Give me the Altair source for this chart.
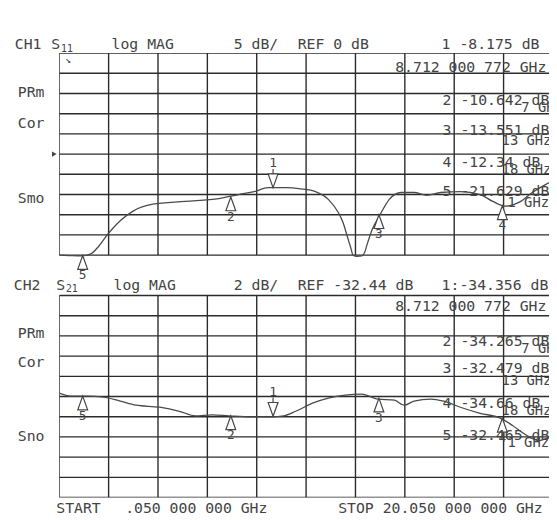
import altair as alt
import pandas as pd

freq_grid = [0.05, 2.05, 4.05, 6.05, 8.05, 10.05, 12.05, 14.05, 16.05, 18.05, 20.05]
div_rows = [0, 1, 2, 3, 4, 5, 6, 7, 8, 9, 10]

# channel settings: (panel offset in divisions, reference dB, dB per division)
ch1_set = (0, 0.0, 5.0)
ch2_set = (12, -32.44, 2.0)

# CH1  S11 trace
s11_ghz = [0.05, 0.45, 0.95, 1.33, 1.65, 1.97, 2.52, 3.04, 3.84, 5.16, 6.52, 7.32, 7.95,
           8.51, 9.23, 9.83, 10.43, 10.95, 11.35, 11.55, 11.71, 11.85, 11.95, 12.11, 12.31,
           12.43, 12.51, 12.74, 13.02, 13.42, 13.90, 14.42, 14.94, 15.50, 16.30, 17.10,
           17.61, 18.13, 18.69, 19.21, 19.73, 20.05]
s11_db = [-25.0, -25.1, -25.2, -24.7, -22.8, -20.2, -16.5, -14.1, -12.4, -11.7, -11.0, -10.0, -9.3,
          -8.3, -8.3, -8.6, -9.3, -11.2, -14.4, -17.0, -20.2, -23.0, -25.0, -25.3, -25.2,
          -24.2, -22.6, -18.5, -15.3, -11.2, -9.5, -9.5, -10.2, -9.5, -9.3, -10.0,
          -11.7, -12.9, -11.9, -9.5, -7.6, -6.6]

# CH2  S21 trace
s21_ghz = [0.05, 0.53, 1.17, 1.85, 2.52, 3.16, 4.12, 4.92, 5.56, 6.24, 6.92, 7.83, 8.63, 9.15,
           9.63, 10.31, 10.95, 11.63, 12.31, 12.95, 13.63, 14.02, 14.42, 15.10, 15.62, 16.30,
           17.10, 17.89, 18.41, 18.93, 19.49, 19.89, 20.05]
s21_db = [-32.1, -32.4, -32.4, -32.5, -32.9, -33.3, -33.5, -33.9, -34.35, -34.25, -34.35, -34.45,
          -34.45, -34.35, -33.9, -33.1, -32.6, -32.3, -32.2, -32.7, -32.8, -33.3, -32.9, -32.7,
          -32.9, -33.5, -34.1, -34.55, -35.3, -36.2, -36.8, -36.5, -36.4]

# markers
marker_num = ["1", "2", "3", "4", "5"]
marker_ghz = [8.712, 7.0, 13.0, 18.0, 1.0]
ch1_marker_db = [-8.3, -10.6, -15.0, -12.8, -25.1]
ch2_marker_db = [-34.4, -34.35, -32.6, -34.6, -32.4]
ch1_readout = ["-8.175", "-10.642", "-13.551", "-12.34", "-21.629"]
ch2_readout = ["-34.356", "-34.265", "-32.479", "-34.66", "-32.465"]
marker_freq_text = ["8.712 000 772 GHz", "7 GHz", "13 GHz", "18 GHz", "1 GHz"]

# ---------------- styling ----------------
FONT = "DejaVu Sans Mono"
INK = "#444444"
GRID = "#2b2b2b"
TRACE = "#4a4a4a"

xs = alt.Scale(domain=[0.05, 19.89], nice=False, zero=False)
ys = alt.Scale(domain=[0, 22], nice=False, zero=False, reverse=True)
X = lambda f="ghz": alt.X(f"{f}:Q", scale=xs, axis=None)
Y = lambda f="div": alt.Y(f"{f}:Q", scale=ys, axis=None)


def div_expr(setting):
    off, ref, per = setting
    return f"{off} + 5 - (datum.db - ({ref})) / {per}"


# ---------------- grid ----------------
h_rows, v_rows = [], []
for off in (ch1_set[0], ch2_set[0]):
    for k in div_rows:
        h_rows.append({"ghz": freq_grid[0], "ghz2": freq_grid[-1], "div": off + k})
    for f in freq_grid:
        v_rows.append({"ghz": f, "div": off, "div2": off + 10})

h_grid = alt.Chart(pd.DataFrame(h_rows)).mark_rule(color=GRID, strokeWidth=1.4, clip=True).encode(
    x=X(), x2="ghz2:Q", y=Y())
v_grid = alt.Chart(pd.DataFrame(v_rows)).mark_rule(color=GRID, strokeWidth=1.4, clip=True).encode(
    x=X(), y=Y(), y2="div2:Q")

# ---------------- traces ----------------
s11 = alt.Chart(pd.DataFrame({"ghz": s11_ghz, "db": s11_db})).transform_calculate(
    div=div_expr(ch1_set)).mark_line(color=TRACE, strokeWidth=1.3, clip=True,
                                     interpolate="monotone").encode(x=X(), y=Y(), order="ghz:Q")
s21 = alt.Chart(pd.DataFrame({"ghz": s21_ghz, "db": s21_db})).transform_calculate(
    div=div_expr(ch2_set)).mark_line(color=TRACE, strokeWidth=1.3, clip=True,
                                     interpolate="monotone").encode(x=X(), y=Y(), order="ghz:Q")

# ---------------- markers ----------------
mk = []
for ch, dbs in (("1", ch1_marker_db), ("2", ch2_marker_db)):
    for n, g, d in zip(marker_num, marker_ghz, dbs):
        mk.append({"ch": ch, "num": n, "ghz": g, "db": d,
                   "dirn": "down" if n == "1" else "up"})
mk_df = pd.DataFrame(mk)
ch_expr = ("datum.ch == '1' ? " + div_expr(ch1_set) + " : " + div_expr(ch2_set))
mk_base = alt.Chart(mk_df).transform_calculate(div=ch_expr)

tri_up = mk_base.transform_filter("datum.dirn == 'up'").mark_point(
    shape="M0,0L1,2.8L-1,2.8Z", size=100, filled=True, fill="white", stroke=INK,
    strokeWidth=1.2, opacity=1).encode(x=X(), y=Y())
tri_dn = mk_base.transform_filter("datum.dirn == 'down'").mark_point(
    shape="M0,0L1,-2.8L-1,-2.8ZM0,-2.8L0,-3.8", size=100, filled=True, fill="white",
    stroke=INK, strokeWidth=1.2, opacity=1).encode(x=X(), y=Y())
lab_up = mk_base.transform_filter("datum.dirn == 'up'").mark_text(
    font=FONT, fontSize=13, color=INK, dy=20, baseline="middle").encode(x=X(), y=Y(), text="num:N")
lab_dn = mk_base.transform_filter("datum.dirn == 'down'").mark_text(
    font=FONT, fontSize=13, color=INK, dy=-25, baseline="middle").encode(x=X(), y=Y(), text="num:N")

# ---------------- screen text ----------------
notes = [
    # header CH1
    ("CH1", -1.75, -0.44, 15), ("S", -0.27, -0.44, 15), ("11", 0.12, -0.22, 10),
    ("log MAG", 2.17, -0.44, 15), ("5 dB/", 7.12, -0.44, 15), ("REF 0 dB", 9.71, -0.44, 15),
    ("1 " + ch1_readout[0] + "  dB", 15.54, -0.44, 15),
    ("↘", 0.29, 0.36, 10),
    # header CH2
    ("CH2", -1.79, 11.46, 15), ("S", -0.07, 11.46, 15), ("21", 0.32, 11.68, 10),
    ("log MAG", 2.25, 11.46, 15), ("2 dB/", 7.12, 11.46, 15), ("REF -32.44 dB", 9.71, 11.46, 15),
    ("1:" + ch2_readout[0] + " dB", 15.54, 11.46, 15),
    # left status labels
    ("PRm", -1.63, 1.95, 15), ("Cor", -1.63, 3.46, 15), ("Smo", -1.63, 7.17, 15),
    ("PRm", -1.63, 13.85, 15), ("Cor", -1.63, 15.27, 15), ("Sno", -1.63, 18.98, 15),
    # footer
    ("START", -0.07, 22.54, 15), (".050 000 000 GHz", 2.72, 22.54, 15),
    ("STOP 20.050 000 000 GHz", 11.35, 22.54, 15),
]
# marker readouts inside the grids
ch1_rows = [0.68, 2.34, 3.80, 5.37, 6.83]
ch1_sub = [None, 2.73, 4.34, 5.80, 7.41]
ch2_rows = [12.54, 14.24, 15.61, 17.32, 18.93]
ch2_sub = [None, 14.63, 16.24, 17.71, 19.32]
sub_x = [None, 18.77, 17.97, 17.97, 18.21]
for rows, subs, vals in ((ch1_rows, ch1_sub, ch1_readout), (ch2_rows, ch2_sub, ch2_readout)):
    notes.append((marker_freq_text[0], 13.66, rows[0], 15))
    for i in range(1, 5):
        pad = "  " if len(vals[i]) < 7 else " "
        notes.append((f"{marker_num[i]} {vals[i]}{pad}dB", 15.58, rows[i], 15))
        notes.append((marker_freq_text[i], sub_x[i], subs[i], 14))

notes_df = pd.DataFrame(notes, columns=["text", "ghz", "div", "size"])
texts = alt.Chart(notes_df).mark_text(font=FONT, color=INK, align="left",
                                      baseline="middle").encode(
    x=X(), y=Y(), text="text:N", size=alt.Size("size:Q", scale=None, legend=None))

ref_flag = alt.Chart(pd.DataFrame({"ghz": [freq_grid[0]], "db": [ch1_set[1]]})).transform_calculate(
    div=div_expr(ch1_set)).mark_point(shape="triangle-right", size=30, filled=True, color=INK,
                                      opacity=1, xOffset=-5).encode(x=X(), y=Y())

chart = alt.layer(h_grid, v_grid, s11, s21, tri_up, tri_dn, lab_up, lab_dn, texts, ref_flag).properties(
    width=497, height=451,
    autosize=alt.AutoSizeParams(type="none"),
    padding={"left": 52, "top": 42, "right": 0, "bottom": 17},
    background="white",
).configure_view(stroke=None)

chart.save("out.html", embed_options={"renderer": "svg", "actions": False})
